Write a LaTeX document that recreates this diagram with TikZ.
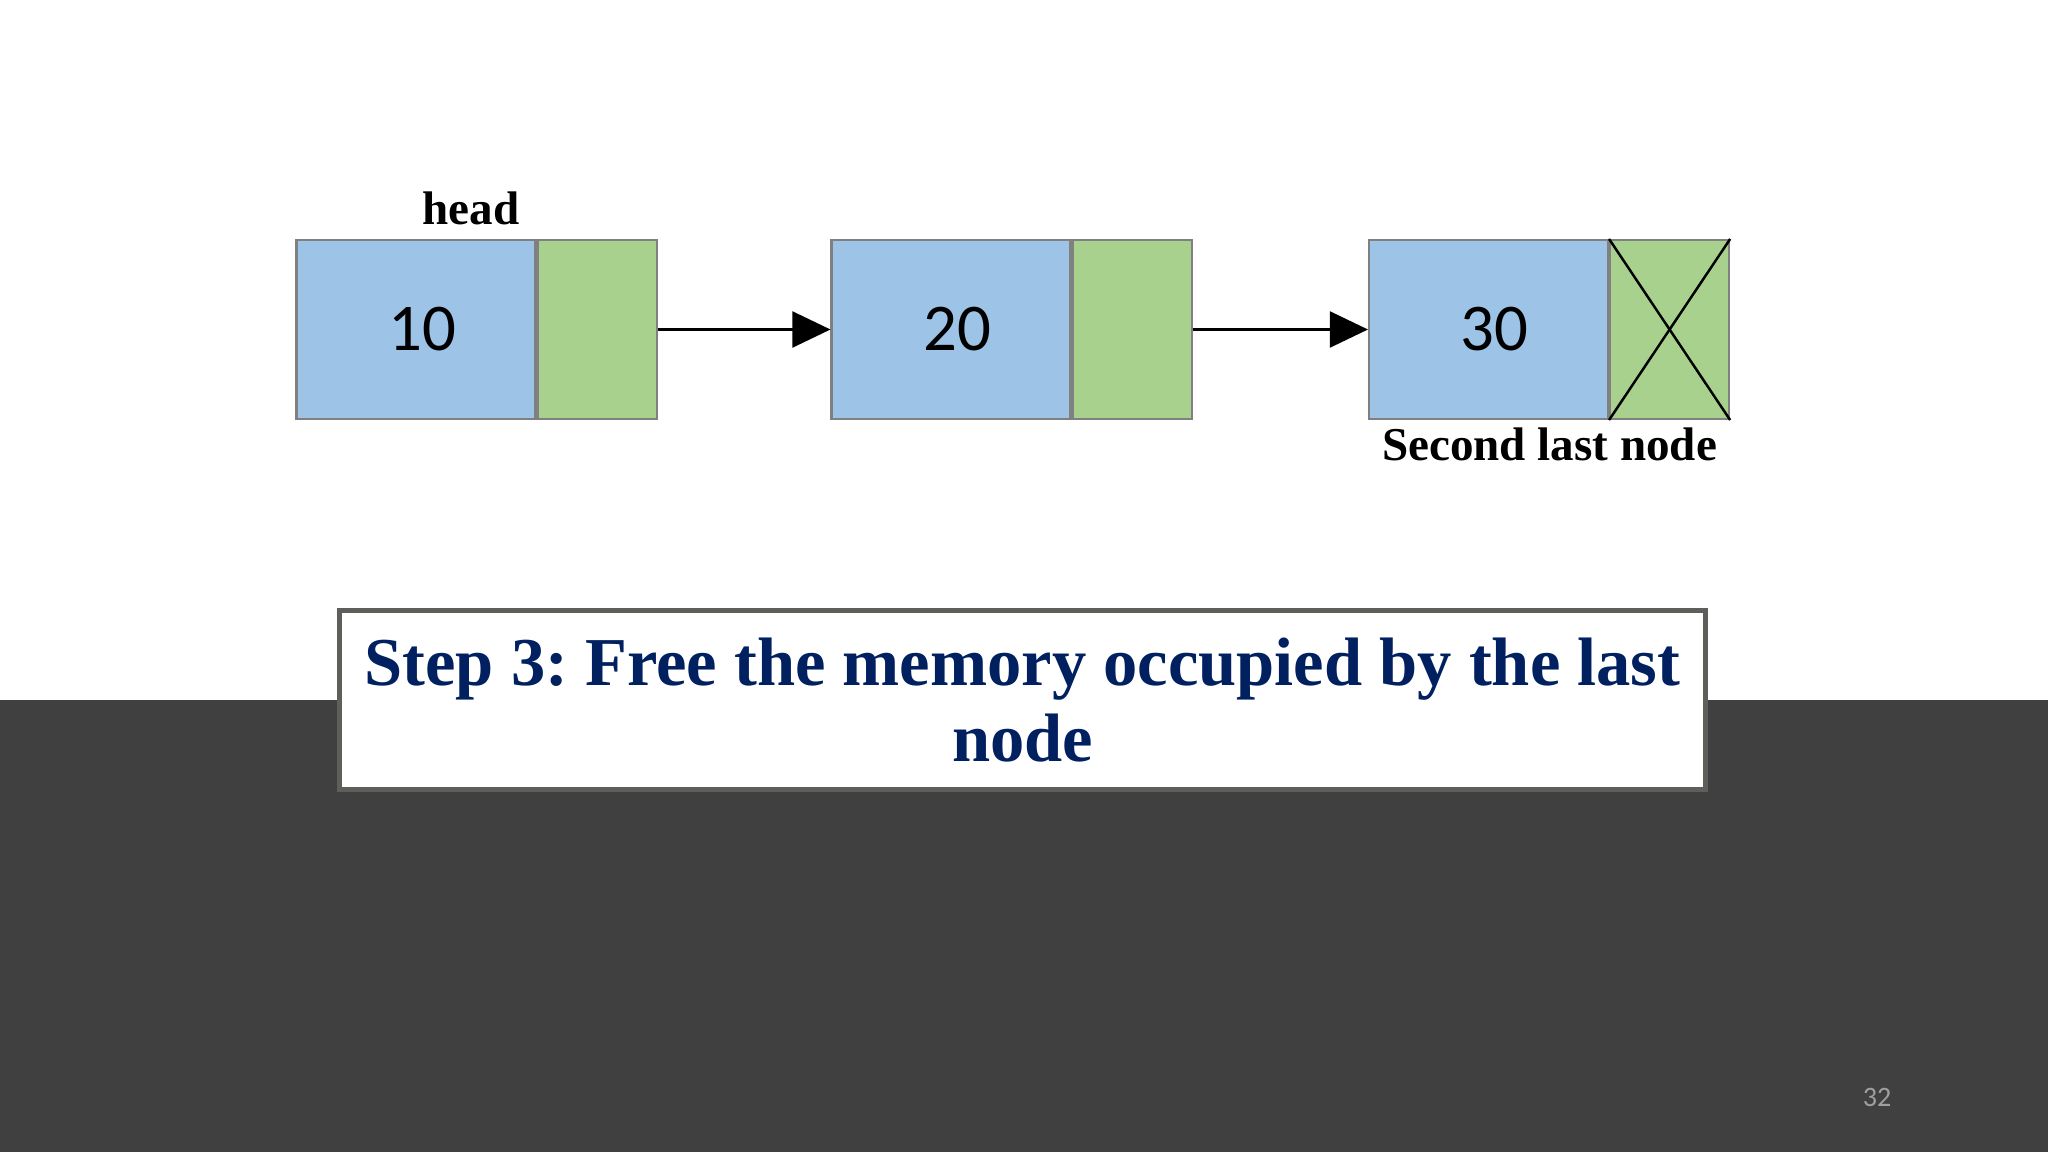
\documentclass[tikz,border=0pt]{standalone}
\usepackage{fontspec}
\setmainfont{Liberation Serif}
\newfontfamily\numfont{Carlito}
\usetikzlibrary{arrows.meta,positioning}
\definecolor{databg}{HTML}{9DC3E6}
\definecolor{linkbg}{HTML}{A9D18E}
\definecolor{cellline}{HTML}{808080}
\definecolor{stepblue}{HTML}{002060}
\definecolor{bandgray}{HTML}{404040}
\definecolor{boxline}{HTML}{5E5E5A}

\tikzset{
	datacell/.style={draw=cellline, line width=0.6pt, fill=databg, minimum width=2.39cm, minimum height=1.79cm, inner sep=0pt, font=\numfont\fontsize{19}{22}\selectfont},
	linkcell/.style={draw=cellline, line width=0.6pt, fill=linkbg, minimum width=1.19cm, minimum height=1.79cm, inner sep=0pt, anchor=west},
	nextptr/.style={-{Triangle[length=0.38cm, width=0.36cm]}, line width=0.6pt},
	tag/.style={font=\bfseries\fontsize{13.4}{15}\selectfont}
}

\begin{document}
\begin{tikzpicture}
	\useasboundingbox (0, 0) rectangle (20.48, -11.52);
	\fill[bandgray] (0, -7.00) rectangle (20.48, -11.52);
	\foreach \v/\x in {10/4.16, 20/9.51, 30/14.885}
	{
		\node[datacell] (d\v) at (\x, -3.295) {\hspace{0.12cm}\v};
		\node[linkcell] (n\v) at (d\v.east) {};
	}
	\draw[nextptr] (n10.east) -- (d20.west);
	\draw[nextptr] (n20.east) -- (d30.west);
	\draw[line width=0.7pt] (n30.north west) -- (n30.south east);
	\draw[line width=0.7pt] (n30.south west) -- (n30.north east);
	\node[tag, above=0.02cm of d10.north, xshift=0.55cm] (head) {head};
	\node[tag, below=-0.05cm of d30.south, xshift=0.61cm] (second) {Second last node};
	\node[draw=boxline, line width=0.05cm, fill=white, minimum width=13.66cm, minimum height=1.79cm, align=center, inner sep=0pt, text=stepblue, font=\bfseries\fontsize{19.5}{21.8}\selectfont\frenchspacing] (step) at (10.225, -7.0) {Step 3: Free the memory occupied by the last\\node};
	\node[text=gray!75, font=\numfont\fontsize{8}{9}\selectfont] (page) at (18.77, -10.97) {32};
\end{tikzpicture}
\end{document}
